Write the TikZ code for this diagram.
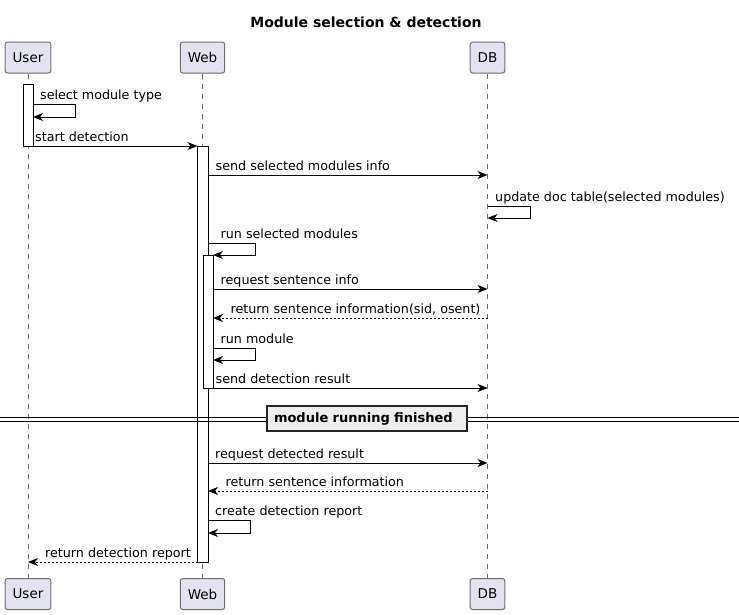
\documentclass[tikz,border=0pt]{standalone}
\usepackage{fontspec}
\setmainfont{DejaVu Sans}
\usetikzlibrary{calc,shapes,arrows.meta}
\definecolor{actorfill}{HTML}{E2E2F0}
\definecolor{actorline}{HTML}{6E6E6E}
\definecolor{sepfill}{HTML}{EEEEEE}

\tikzset{
  actor/.style={draw=actorline, fill=actorfill, rounded corners=2.5pt, line width=1pt,
    minimum height=31pt, inner xsep=7.5pt, inner ysep=0pt, font=\fontsize{13.5}{16}\selectfont},
  lifeline/.style={draw=actorline, line width=0.8pt, dash pattern=on 5pt off 5pt},
  actbox/.style={draw=black, fill=white, line width=1pt},
  msg/.style={line width=1pt, -{Stealth[length=10pt,width=8pt,inset=3pt]}},
  reply/.style={msg, dash pattern=on 2pt off 2pt},
  lbl/.style={anchor=base west, inner sep=0pt, font=\fontsize{12.7}{15}\selectfont}
}

\begin{document}
\begin{tikzpicture}[x=1pt,y=-1pt]
        \useasboundingbox (0,0) rectangle (739,614);
        \node[anchor=base, inner sep=0pt, font=\fontsize{14}{17}\bfseries] (title) at (366,27)
            {Module selection \& detection};
        \foreach \name/\x/\txt in {user/28/User, web/202.5/Web, db/487.5/DB}
        {
        \node[actor] (\name-top) at (\x,57.5) {\txt};
        \node[actor] (\name-bot) at (\x,594) {\txt};
        \draw[lifeline] (\name-top) -- (\name-bot);
        }
        % activations
        \draw[actbox] (23,84) rectangle (33,146);
        \draw[actbox] (197.5,146) rectangle (208,562);
        \draw[actbox] (203,255) rectangle (213,388);
        % messages
        \draw[msg] (33,104) -- (75,104) -- (75,117) -- (33,117);
        \node[lbl] (m1) at (40,99) {select module type};
        \draw[msg] (23,146) -- (197.5,146);
        \node[lbl] (m2) at (35,141) {start detection};
        \draw[msg] (208,175) -- (487.5,175);
        \node[lbl] (m3) at (215.5,170) {send selected modules info};
        \draw[msg] (487.5,206) -- (530,206) -- (530,218) -- (487.5,218);
        \node[lbl] (m4) at (495,201) {update doc table(selected modules)};
        \draw[msg] (208,243) -- (255.5,243) -- (255.5,255) -- (213,255);
        \node[lbl] (m5) at (220.5,238) {run selected modules};
        \draw[msg] (213,289) -- (487.5,289);
        \node[lbl] (m6) at (220.5,284) {request sentence info};
        \draw[reply] (487.5,318) -- (213,318);
        \node[lbl] (m7) at (230.5,313) {return sentence information(sid, osent)};
        \draw[msg] (213,348) -- (255.5,348) -- (255.5,360) -- (213,360);
        \node[lbl] (m8) at (220.5,343) {run module};
        \draw[msg] (203,388) -- (487.5,388);
        \node[lbl] (m9) at (215.5,383) {send detection result};
        % separator
        \draw[line width=1pt] (0,417) -- (739,417);
        \draw[line width=1pt] (0,421) -- (739,421);
        \node[draw=black!85, fill=sepfill, line width=1.5pt, minimum width=200pt, minimum height=25pt,
            text width=186pt, inner xsep=7pt, align=left, font=\fontsize{13}{15}\bfseries] (sep) at (367,418.5)
            {module running finished};
        \draw[msg] (208,463) -- (487.5,463);
        \node[lbl] (m10) at (215,458) {request detected result};
        \draw[reply] (487.5,491) -- (208,491);
        \node[lbl] (m11) at (225.5,486) {return sentence information};
        \draw[msg] (208,520) -- (250,520) -- (250,533) -- (208,533);
        \node[lbl] (m12) at (215,515) {create detection report};
        \draw[reply] (197.5,562) -- (28,562);
        \node[lbl] (m13) at (45,557) {return detection report};
\end{tikzpicture}
\end{document}
